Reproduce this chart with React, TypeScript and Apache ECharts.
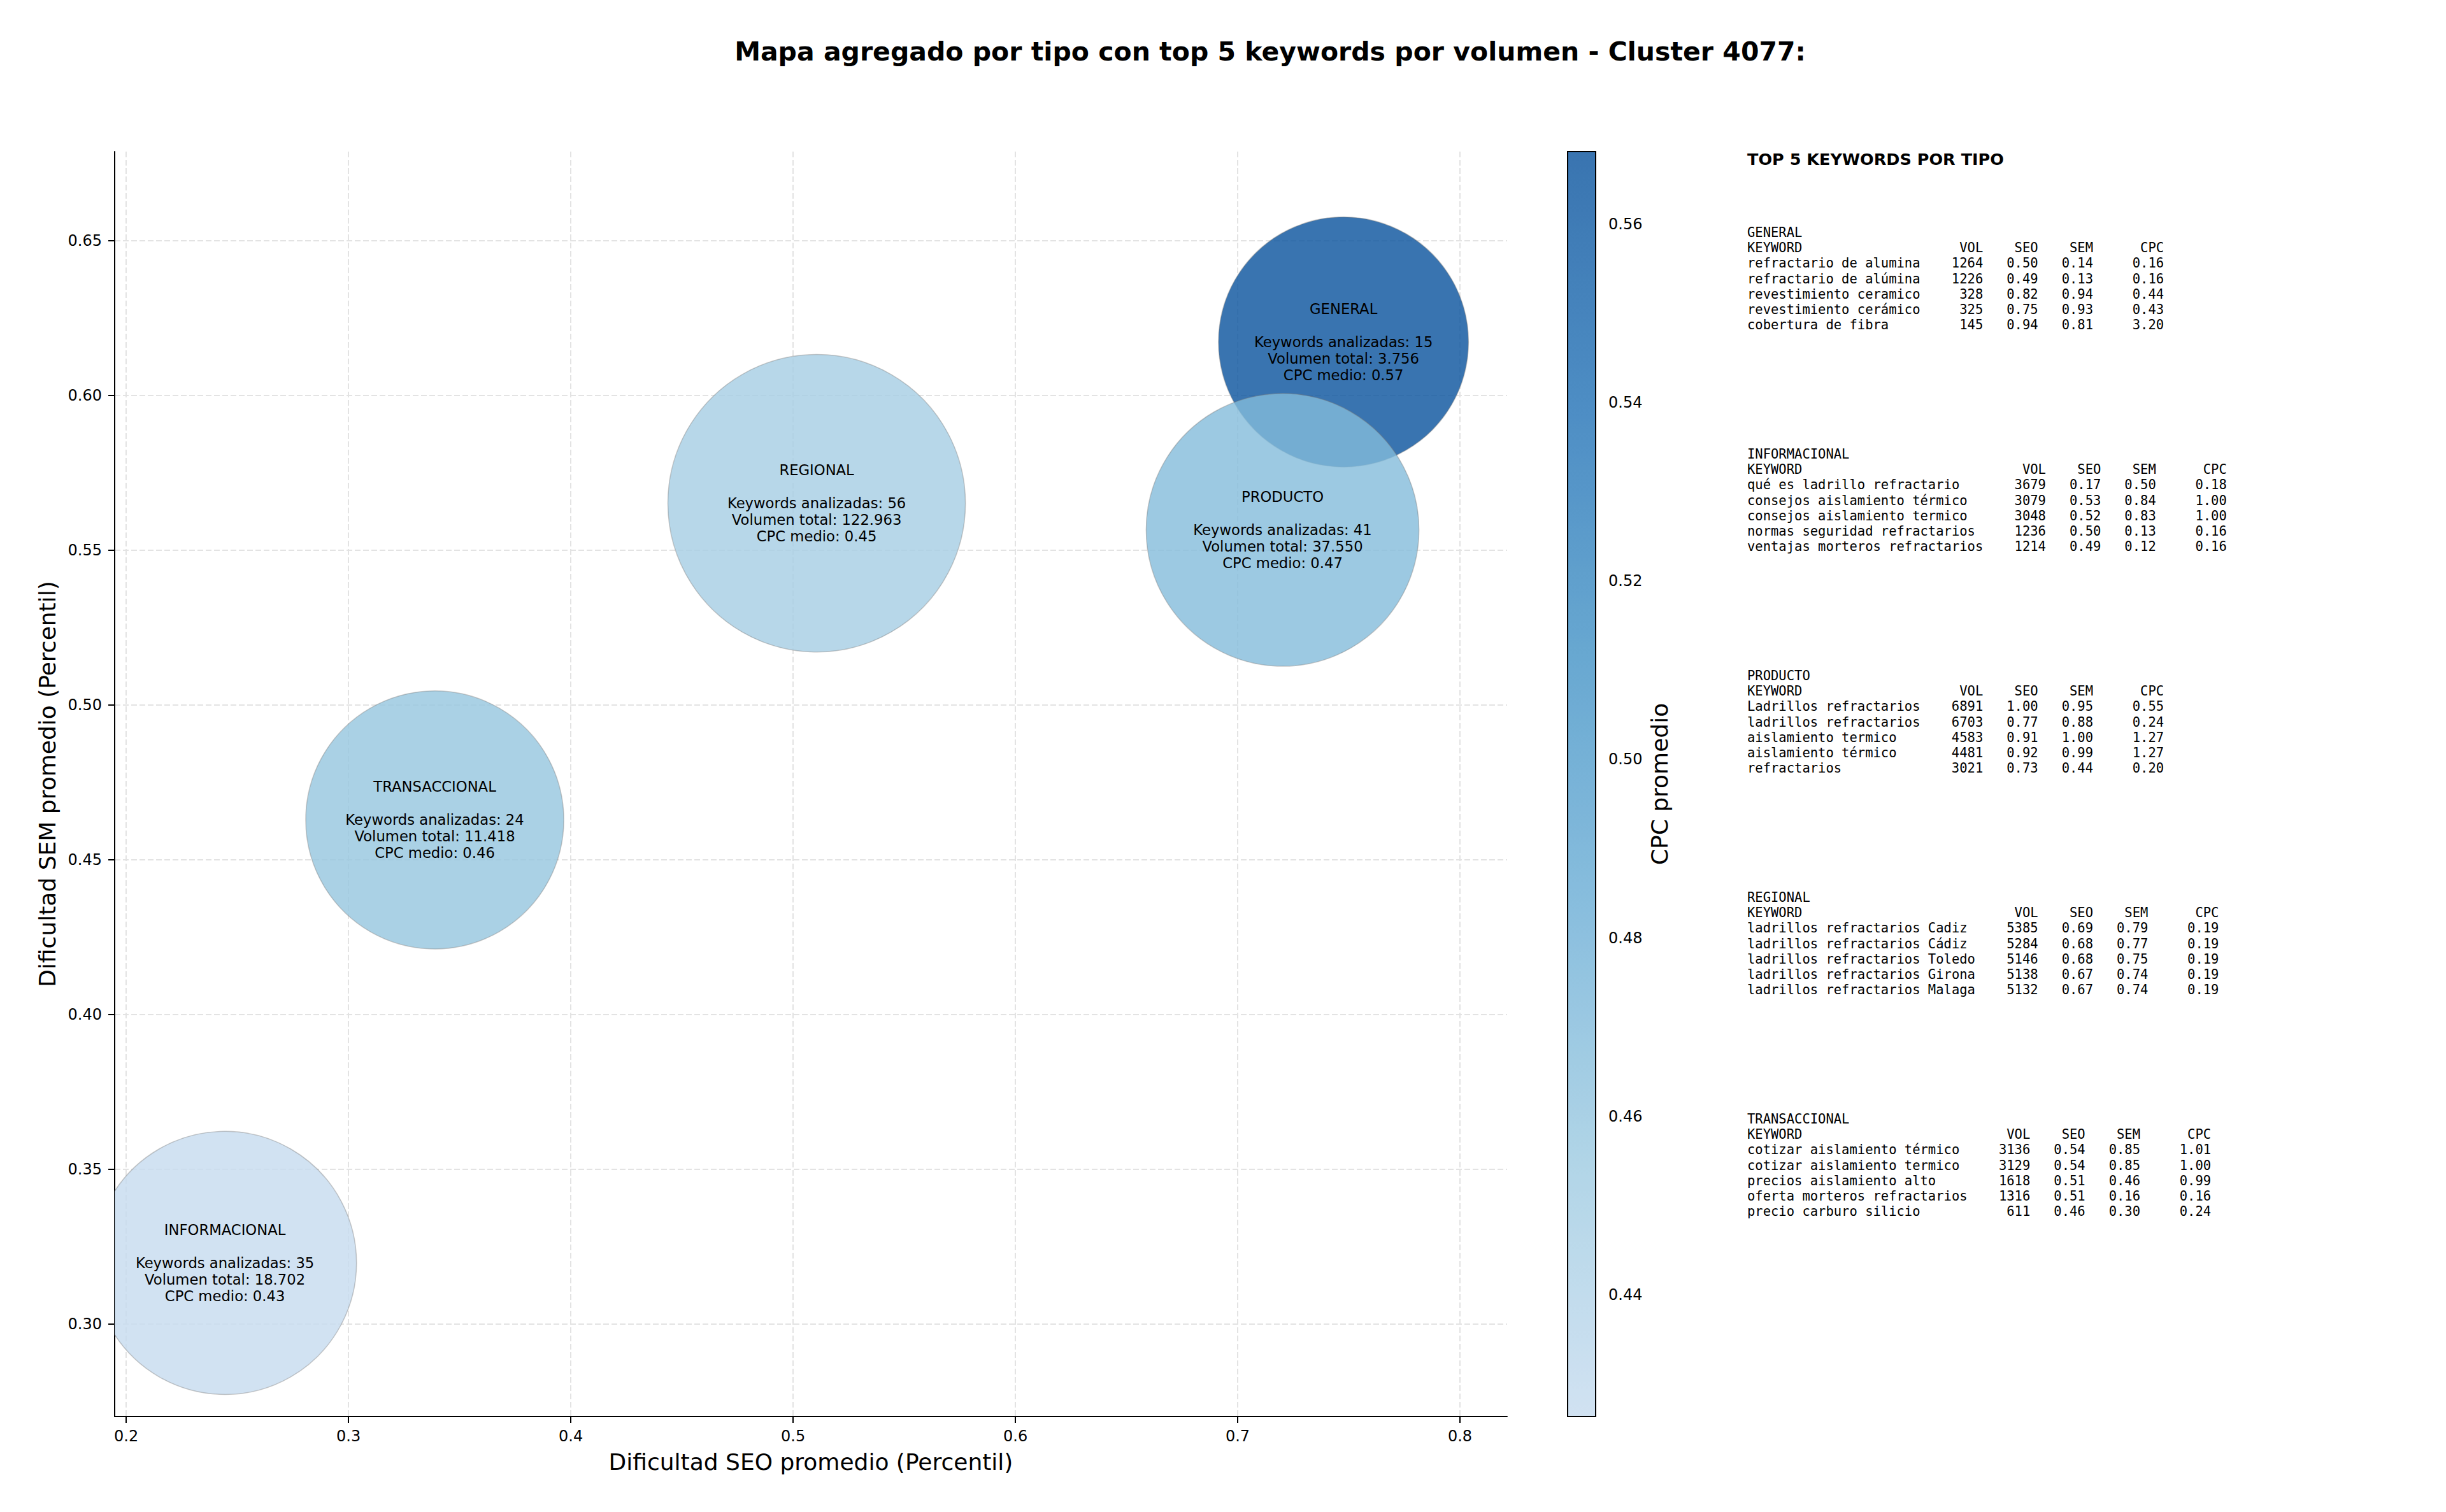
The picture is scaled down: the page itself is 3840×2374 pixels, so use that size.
import React, { useEffect, useRef } from "react";
import * as echarts from "echarts";

// ---------------- data ----------------
const TYPES = ["GENERAL", "INFORMACIONAL", "PRODUCTO", "REGIONAL", "TRANSACCIONAL"];
const SEO_AVG = [0.7476, 0.2444, 0.7202, 0.5106, 0.3388];
const SEM_AVG = [0.6173, 0.3198, 0.5566, 0.5652, 0.4629];
const CPC_AVG = [0.5681, 0.4264, 0.47, 0.45, 0.46];
const KW_COUNT = [15, 35, 41, 56, 24];
const VOL_TOTAL = [3756, 18702, 37550, 122963, 11418];

const X_TICKS = [0.2, 0.3, 0.4, 0.5, 0.6, 0.7, 0.8];
const Y_TICKS = [0.3, 0.35, 0.4, 0.45, 0.5, 0.55, 0.6, 0.65];
const CB_TICKS = [0.44, 0.46, 0.48, 0.5, 0.52, 0.54, 0.56];
const X_RANGE = [0.1948, 0.8212];
const Y_RANGE = [0.2702, 0.6788];

const TOP_GENERAL: [string, number, number, number, number][] = [
  ["refractario de alumina", 1264, 0.5, 0.14, 0.16],
  ["refractario de alúmina", 1226, 0.49, 0.13, 0.16],
  ["revestimiento ceramico", 328, 0.82, 0.94, 0.44],
  ["revestimiento cerámico", 325, 0.75, 0.93, 0.43],
  ["cobertura de fibra", 145, 0.94, 0.81, 3.2],
];
const TOP_INFORMACIONAL: [string, number, number, number, number][] = [
  ["qué es ladrillo refractario", 3679, 0.17, 0.5, 0.18],
  ["consejos aislamiento térmico", 3079, 0.53, 0.84, 1.0],
  ["consejos aislamiento termico", 3048, 0.52, 0.83, 1.0],
  ["normas seguridad refractarios", 1236, 0.5, 0.13, 0.16],
  ["ventajas morteros refractarios", 1214, 0.49, 0.12, 0.16],
];
const TOP_PRODUCTO: [string, number, number, number, number][] = [
  ["Ladrillos refractarios", 6891, 1.0, 0.95, 0.55],
  ["ladrillos refractarios", 6703, 0.77, 0.88, 0.24],
  ["aislamiento termico", 4583, 0.91, 1.0, 1.27],
  ["aislamiento térmico", 4481, 0.92, 0.99, 1.27],
  ["refractarios", 3021, 0.73, 0.44, 0.2],
];
const TOP_REGIONAL: [string, number, number, number, number][] = [
  ["ladrillos refractarios Cadiz", 5385, 0.69, 0.79, 0.19],
  ["ladrillos refractarios Cádiz", 5284, 0.68, 0.77, 0.19],
  ["ladrillos refractarios Toledo", 5146, 0.68, 0.75, 0.19],
  ["ladrillos refractarios Girona", 5138, 0.67, 0.74, 0.19],
  ["ladrillos refractarios Malaga", 5132, 0.67, 0.74, 0.19],
];
const TOP_TRANSACCIONAL: [string, number, number, number, number][] = [
  ["cotizar aislamiento térmico", 3136, 0.54, 0.85, 1.01],
  ["cotizar aislamiento termico", 3129, 0.54, 0.85, 1.0],
  ["precios aislamiento alto", 1618, 0.51, 0.46, 0.99],
  ["oferta morteros refractarios", 1316, 0.51, 0.16, 0.16],
  ["precio carburo silicio", 611, 0.46, 0.3, 0.24],
];
const TOP_TABLES = [TOP_GENERAL, TOP_INFORMACIONAL, TOP_PRODUCTO, TOP_REGIONAL, TOP_TRANSACCIONAL];

// ---------------- styles ----------------
const FONT = "DejaVu Sans";
const MONO = "DejaVu Sans Mono";
const BLUES_RAW = ["#c6dbef", "#9ecae1", "#6baed6", "#4292c6", "#2171b5", "#08519c"];
const BLUES_ALPHA = ["#d1e2f2", "#b1d5e7", "#89bede", "#68a8d1", "#4d8dc4", "#3974b0"];

const fmtThousands = (v: number) => String(v).replace(/\B(?=(\d{3})+(?!\d))/g, ".");

function buildTable() {
  const els: any[] = [];
  const x0 = 2743;
  const fs = 20.5;
  const cw = fs * 0.602;
  const lh = 24.2;
  els.push({
    type: "text",
    x: x0,
    y: 250,
    style: { text: "TOP 5 KEYWORDS POR TIPO", font: `bold 25.5px "${FONT}"`, fill: "#000", align: "left", verticalAlign: "middle" },
  });
  TOP_TABLES.forEach((rows, gi) => {
    const yb = 365 + 348 * gi;
    const L = Math.max(...rows.map((r) => r[0].length));
    const cols = [L + 8, L + 15, L + 22, L + 31];
    const txt = (s: string, x: number, y: number, align: string) => ({
      type: "text",
      x,
      y,
      style: { text: s, font: `${fs}px "${MONO}"`, fill: "#000", align, verticalAlign: "middle" },
    });
    els.push(txt(TYPES[gi], x0, yb, "left"));
    els.push(txt("KEYWORD", x0, yb + lh, "left"));
    ["VOL", "SEO", "SEM", "CPC"].forEach((h, ci) => els.push(txt(h, x0 + cols[ci] * cw, yb + lh, "right")));
    rows.forEach((r, ri) => {
      const y = yb + lh * (2 + ri);
      els.push(txt(r[0], x0, y, "left"));
      els.push(txt(String(r[1]), x0 + cols[0] * cw, y, "right"));
      els.push(txt(r[2].toFixed(2), x0 + cols[1] * cw, y, "right"));
      els.push(txt(r[3].toFixed(2), x0 + cols[2] * cw, y, "right"));
      els.push(txt(r[4].toFixed(2), x0 + cols[3] * cw, y, "right"));
    });
  });
  return els;
}

export default function App() {
  const ref = useRef<HTMLDivElement>(null);
  useEffect(() => {
    const chart = echarts.init(ref.current!, null, { renderer: "svg", width: 3840, height: 2374 });
    const cbMin = Math.min(...CPC_AVG);
    const cbMax = Math.max(...CPC_AVG);
    const axisText = { fontSize: 24, color: "#000", fontFamily: FONT };
    const nameText = { fontSize: 36, color: "#000", fontFamily: FONT };
    const option: any = {
      animation: false,
      backgroundColor: "#fff",
      title: {
        text: "Mapa agregado por tipo con top 5 keywords por volumen - Cluster 4077:",
        left: 1994,
        top: 60,
        padding: 0,
        textAlign: "center",
        textStyle: { fontSize: 41, fontWeight: "bold", color: "#000", fontFamily: FONT },
      },
      grid: [
        { left: 180, top: 238, width: 2186, height: 1986, containLabel: false, outerBoundsMode: "none" },
        {
          left: 2461, top: 238, width: 44, height: 1986, containLabel: false, outerBoundsMode: "none",
          show: true, borderColor: "#000", borderWidth: 2, backgroundColor: "transparent", z: 10,
        },
      ],
      xAxis: [
        {
          type: "value",
          gridIndex: 0,
          min: X_RANGE[0],
          max: X_RANGE[1],
          axisLine: { show: true, onZero: false, lineStyle: { color: "#000", width: 2 } },
          axisTick: { show: true, customValues: X_TICKS, length: 10, lineStyle: { color: "#000", width: 2 } },
          axisLabel: { customValues: X_TICKS, formatter: (v: number) => v.toFixed(1), margin: 19, ...axisText },
          splitLine: { show: true, lineStyle: { color: "#e3e3e3", type: [9, 4], width: 2 } },
          name: "Dificultad SEO promedio (Percentil)",
          nameLocation: "middle",
          nameGap: 53,
          nameTextStyle: nameText,
        },
        { type: "value", gridIndex: 1, show: false, min: 0, max: 1 },
      ],
      yAxis: [
        {
          type: "value",
          gridIndex: 0,
          min: Y_RANGE[0],
          max: Y_RANGE[1],
          axisLine: { show: true, onZero: false, lineStyle: { color: "#000", width: 2 } },
          axisTick: { show: true, customValues: Y_TICKS, length: 10, lineStyle: { color: "#000", width: 2 } },
          axisLabel: { customValues: Y_TICKS, formatter: (v: number) => v.toFixed(2), margin: 20, ...axisText },
          splitLine: { show: true, lineStyle: { color: "#e3e3e3", type: [9, 4], width: 2 } },
          name: "Dificultad SEM promedio (Percentil)",
          nameLocation: "middle",
          nameRotate: 90,
          nameGap: 88,
          nameTextStyle: nameText,
        },
        {
          type: "value",
          gridIndex: 1,
          position: "right",
          min: cbMin,
          max: cbMax,
          axisLine: { show: false },
          axisTick: { show: true, customValues: CB_TICKS, length: 10, lineStyle: { color: "#000", width: 2 } },
          axisLabel: { customValues: CB_TICKS, formatter: (v: number) => v.toFixed(2), margin: 20, ...axisText },
          splitLine: { show: false },
          name: "CPC promedio",
          nameLocation: "middle",
          nameRotate: 90,
          nameGap: 82,
          nameTextStyle: nameText,
        },
      ],
      visualMap: [
        {
          type: "continuous",
          seriesIndex: 0,
          dimension: 2,
          min: cbMin,
          max: cbMax,
          inRange: { color: BLUES_RAW },
          controller: { inRange: { color: BLUES_ALPHA } },
          left: 2461,
          top: 238,
          itemWidth: 44,
          itemHeight: 1986,
          padding: 0,
          calculable: false,
          hoverLink: false,
          z: 5,
        },
      ],
      series: [
        {
          type: "custom",
          xAxisIndex: 0,
          yAxisIndex: 0,
          clip: true,
          encode: { x: 0, y: 1 },
          data: TYPES.map((t, i) => [SEO_AVG[i], SEM_AVG[i], CPC_AVG[i], VOL_TOTAL[i], KW_COUNT[i]]),
          renderItem: (params: any, api: any) => {
            const i = params.dataIndex;
            const [cx, cy] = api.coord([api.value(0), api.value(1)]);
            const vol = api.value(3);
            const r = Math.sqrt(35103 + 55.44 * Math.sqrt(vol));
            const color = api.visual("color");
            const label =
              `${TYPES[i]}\n\nKeywords analizadas: ${api.value(4)}\n` +
              `Volumen total: ${fmtThousands(vol)}\nCPC medio: ${Number(api.value(2)).toFixed(2)}`;
            return {
              type: "group",
              children: [
                {
                  type: "circle",
                  shape: { cx, cy, r },
                  style: { fill: color, opacity: 0.8, stroke: "rgba(120,120,120,0.5)", lineWidth: 1.5 },
                },
                {
                  type: "text",
                  x: cx,
                  y: cy,
                  z2: 10,
                  style: {
                    text: label,
                    font: `22.7px "${FONT}"`,
                    fill: "#000",
                    align: "center",
                    verticalAlign: "middle",
                    lineHeight: 26,
                  },
                },
              ],
            };
          },
        },
      ],
      graphic: buildTable(),
    };
    chart.setOption(option);
    return () => chart.dispose();
  }, []);
  return (
    <div
      ref={ref}
      style={{ position: "fixed", left: 0, top: 0, width: 3840, height: 2374, background: "#fff" }}
    />
  );
}
